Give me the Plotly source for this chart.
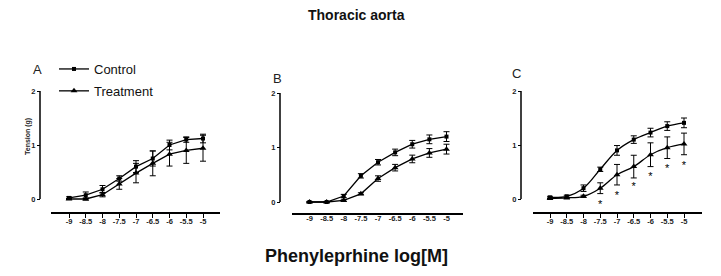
import plotly.graph_objects as go

# ---------------- data ----------------
dose = [-9, -8.5, -8, -7.5, -7, -6.5, -6, -5.5, -5]
dose_labels = ["-9", "-8.5", "-8", "-7.5", "-7", "-6.5", "-6", "-5.5", "-5"]

A_control = [0.02, 0.07, 0.18, 0.38, 0.60, 0.75, 1.00, 1.10, 1.12]
A_control_err = [0.02, 0.06, 0.07, 0.05, 0.11, 0.14, 0.09, 0.05, 0.08]
A_treat = [0.00, 0.00, 0.08, 0.28, 0.48, 0.66, 0.83, 0.90, 0.94]
A_treat_err = [0.01, 0.02, 0.04, 0.10, 0.18, 0.23, 0.22, 0.24, 0.24]

B_control = [0.00, 0.00, 0.11, 0.48, 0.73, 0.91, 1.06, 1.15, 1.20]
B_control_err = [0.01, 0.01, 0.03, 0.04, 0.05, 0.06, 0.07, 0.08, 0.09]
B_treat = [0.00, 0.00, 0.03, 0.15, 0.43, 0.63, 0.79, 0.90, 0.97]
B_treat_err = [0.01, 0.01, 0.02, 0.02, 0.05, 0.06, 0.07, 0.08, 0.09]

C_control = [0.03, 0.05, 0.20, 0.55, 0.90, 1.10, 1.23, 1.35, 1.41]
C_control_err = [0.02, 0.02, 0.06, 0.04, 0.09, 0.07, 0.08, 0.08, 0.09]
C_treat = [0.01, 0.02, 0.05, 0.20, 0.45, 0.60, 0.82, 0.95, 1.02]
C_treat_err = [0.01, 0.01, 0.02, 0.10, 0.19, 0.21, 0.22, 0.20, 0.20]

C_star_dose = [-7.5, -7, -6.5, -6, -5.5, -5]
C_star_y = [-0.11, 0.06, 0.21, 0.40, 0.55, 0.61]

y_ticks = [0, 1, 2]

# ---------------- layout helpers ----------------
OFF = 8                      # page body margin
W, H = 721 - OFF, 276 - OFF
FONT = "Liberation Sans, Arial, sans-serif"


def fx(px):
    return (px - OFF) / W


def fy(py):
    return 1 - (py - OFF) / H


# per panel pixel geometry (page pixels)
panels = [
    dict(name="A", xl=51, xr=220, x9=69, x5=203, y0=199, y2=91, yax=40, xline=212,
         ticklen=4, label=(37, 69)),
    dict(name="B", xl=292, xr=463, x9=309.5, x5=446.5, y0=202, y2=93, yax=280, xline=213,
         ticklen=0, label=(277, 78)),
    dict(name="C", xl=533, xr=702, x9=550, x5=684, y0=199, y2=91, yax=521, xline=212,
         ticklen=4, label=(516, 74)),
]

series = [
    (A_control, A_control_err, A_treat, A_treat_err),
    (B_control, B_control_err, B_treat, B_treat_err),
    (C_control, C_control_err, C_treat, C_treat_err),
]

fig = go.Figure()
shapes = []
annotations = []
layout_axes = {}

for i, (p, (cv, ce, tv, te)) in enumerate(zip(panels, series), start=1):
    xs = "" if i == 1 else str(i)
    xname, yname = "x" + xs, "y" + xs
    sx = (p["x5"] - p["x9"]) / 4.0
    xrange_ = [-9 - (p["x9"] - p["xl"]) / sx, -5 + (p["xr"] - p["x5"]) / sx]
    sy = (p["y0"] - p["y2"]) / 2.0
    ytop = p["y2"] - 4
    yrange_ = [-(p["xline"] - p["y0"]) / sy, 2 + (p["y2"] - ytop) / sy]
    shape_kind = "spline" if p["name"] == "C" else "linear"

    common = dict(xaxis=xname, yaxis=yname, mode="lines+markers",
                  line=dict(color="black", width=1.3, shape=shape_kind),
                  cliponaxis=False)
    fig.add_trace(go.Scatter(
        x=dose, y=cv, name="Control", legendgroup="c", showlegend=(i == 1),
        marker=dict(symbol="square", size=4, color="black"),
        error_y=dict(type="data", array=ce, color="black", thickness=1, width=3),
        **common))
    fig.add_trace(go.Scatter(
        x=dose, y=tv, name="Treatment", legendgroup="t", showlegend=(i == 1),
        marker=dict(symbol="triangle-up", size=6, color="black"),
        error_y=dict(type="data", array=te, color="black", thickness=1, width=3),
        **common))

    layout_axes["xaxis" + xs] = dict(
        domain=[fx(p["xl"]), fx(p["xr"])], range=xrange_, anchor=yname,
        showline=True, linecolor="black", linewidth=1.5, showgrid=False, zeroline=False,
        tickmode="array", tickvals=dose, ticktext=dose_labels,
        ticks="outside" if p["ticklen"] else "", ticklen=p["ticklen"], tickwidth=1,
        tickcolor="black", ticklabelstandoff=-3,
        tickfont=dict(family=FONT, size=7.5, color="#222", weight="bold"),
        fixedrange=True)
    layout_axes["yaxis" + xs] = dict(
        domain=[fy(p["xline"]), fy(ytop)], range=yrange_, anchor="free",
        position=fx(p["yax"]), showline=False, showgrid=False, zeroline=False,
        tickmode="array", tickvals=y_ticks, ticks="outside", ticklen=3, tickwidth=1,
        tickcolor="black",
        tickfont=dict(family=FONT, size=7.5, color="#222", weight="bold"),
        fixedrange=True)
    shapes.append(dict(type="line", xref="paper", yref=yname,
                       x0=fx(p["yax"]), x1=fx(p["yax"]), y0=0, y1=2,
                       line=dict(color="black", width=1.5)))
    annotations.append(dict(text=p["name"], xref="paper", yref="paper",
                            x=fx(p["label"][0]), y=fy(p["label"][1]),
                            xanchor="center", yanchor="middle", showarrow=False,
                            font=dict(family=FONT, size=13, color="#222")))

# significance stars in panel C
fig.add_trace(go.Scatter(x=C_star_dose, y=C_star_y, xaxis="x3", yaxis="y3",
                         mode="text", text=["*"] * len(C_star_dose),
                         textposition="middle center", showlegend=False,
                         cliponaxis=False,
                         textfont=dict(family=FONT, size=11, color="black")))

annotations.append(dict(text="<b>Thoracic aorta</b>", xref="paper", yref="paper",
                        x=fx(356), y=fy(15), xanchor="center", yanchor="middle",
                        showarrow=False, font=dict(family=FONT, size=14, color="#111")))
annotations.append(dict(text="<b>Phenyleprhine log[M]</b>", xref="paper", yref="paper",
                        x=fx(356), y=fy(256), xanchor="center", yanchor="middle",
                        showarrow=False, font=dict(family=FONT, size=18, color="#111")))
annotations.append(dict(text="<b>Tension (g)</b>", xref="paper", yref="paper",
                        x=fx(28), y=fy(137), xanchor="center", yanchor="middle",
                        textangle=-90, showarrow=False,
                        font=dict(family=FONT, size=7, color="#222")))

fig.update_layout(
    width=W, height=H, margin=dict(l=0, r=0, t=0, b=0),
    paper_bgcolor="white", plot_bgcolor="white",
    showlegend=True,
    legend=dict(x=fx(54), y=fy(54), xanchor="left", yanchor="top",
                bgcolor="rgba(0,0,0,0)", borderwidth=0, tracegroupgap=2,
                font=dict(family=FONT, size=13, color="#111"),
                itemwidth=30),
    shapes=shapes, annotations=annotations,
    **layout_axes,
)

fig.write_html("out.html")
